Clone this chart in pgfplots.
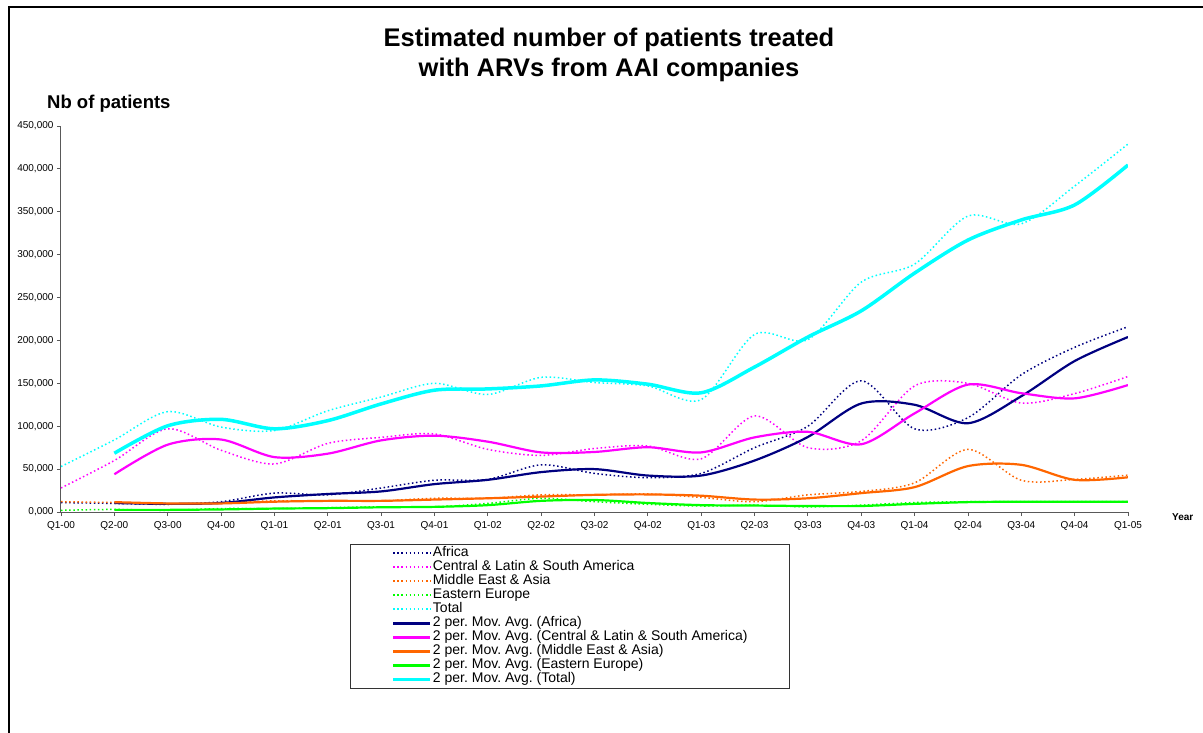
\documentclass[border=0pt]{standalone}
\usepackage{pgfplots}
\pgfplotsset{compat=1.18}
\usepackage{pgfplotstable}
\usepackage{fontspec}
\setmainfont{Liberation Sans}
\frenchspacing
\definecolor{navyc}{RGB}{0,0,128}
\definecolor{magc}{RGB}{255,0,255}
\definecolor{orngc}{RGB}{255,102,0}
\definecolor{grnc}{RGB}{0,255,0}
\definecolor{cync}{RGB}{0,255,255}

\pgfplotstableread{
x af la me ee tot
0 11000 28000 12000 2000 53000
1 10000 60000 11000 3000 84000
2 9000 97000 9000 2000 117000
3 12000 72000 11000 4000 99000
4 22000 56000 13000 4000 95000
5 20000 80000 13000 5000 118000
6 28000 87000 13000 6000 134000
7 37000 91000 16000 6000 150000
8 38000 73000 16000 10000 137000
9 55000 66000 20000 16000 157000
10 45000 74000 20000 12000 151000
11 40000 77000 21000 9000 147000
12 45000 62000 17000 7000 131000
13 75000 112000 12000 8000 207000
14 100000 75000 20000 6000 201000
15 153000 83000 24000 8000 268000
16 97000 147000 34000 11000 289000
17 110000 150000 73000 12000 345000
18 160000 127000 37000 12000 336000
19 192000 138000 38000 12000 380000
20 216000 158000 43000 12000 429000
}\rawdata

\pgfplotstableread{
x af la me ee tot
1 10500 44000 11500 2500 68500
2 9500 78500 10000 2500 100500
3 10500 84500 10000 3000 108000
4 17000 64000 12000 4000 97000
5 21000 68000 13000 4500 106500
6 24000 83500 13000 5500 126000
7 32500 89000 14500 6000 142000
8 37500 82000 16000 8000 143500
9 46500 69500 18000 13000 147000
10 50000 70000 20000 14000 154000
11 42500 75500 20500 10500 149000
12 42500 69500 19000 8000 139000
13 60000 87000 14500 7500 169000
14 87500 93500 16000 7000 204000
15 126500 79000 22000 7000 234500
16 125000 115000 29000 9500 278500
17 103500 148500 53500 11500 317000
18 135000 138500 55000 12000 340500
19 176000 132500 37500 12000 358000
20 204000 148000 40500 12000 404500
}\madata

\begin{document}
\begin{tikzpicture}[x=1pt,y=1pt]
\path[use as bounding box] (0,0) rectangle (1203,-733);
\draw[line width=1.5pt] (9,-733) -- (9,-7) -- (1203,-7);
\node[font=\bfseries\fontsize{25.5}{30}\selectfont, align=center] at (609,-55) {Estimated number of patients treated\\with ARVs from AAI companies};
\node[font=\bfseries\fontsize{18.5}{20}\selectfont, anchor=west, inner sep=0pt] at (47,-104) {Nb of patients};
\node[font=\bfseries\fontsize{10}{12}\selectfont, anchor=west, inner sep=0pt] at (1172,-517) {Year};
\begin{axis}[
  at={(61pt,-512pt)}, anchor=south west,
  scale only axis, width=1067pt, height=386pt,
  xmin=0, xmax=20, ymin=0, ymax=450000,
  axis lines=left,
  axis line style={-, black!65, line width=1pt},
  tick style={black!65, line width=0.8pt},
  major tick length=4pt,
  tick align=outside,
  xtick={0,...,20},
  xticklabels={Q1-00,Q2-00,Q3-00,Q4-00,Q1-01,Q2-01,Q3-01,Q4-01,Q1-02,Q2-02,Q3-02,Q4-02,Q1-03,Q2-03,Q3-03,Q4-03,Q1-04,Q2-04,Q3-04,Q4-04,Q1-05},
  ytick={0,50000,100000,150000,200000,250000,300000,350000,400000,450000},
  yticklabels={{0,000},{50,000},{100,000},{150,000},{200,000},{250,000},{300,000},{350,000},{400,000},{450,000}},
  scaled y ticks=false,
  tick label style={font=\fontsize{10}{12}\selectfont},
  xticklabel style={yshift=-2pt},
  legend cell align=left,
  legend style={at={(0.2709,-0.0829)}, anchor=north west, draw=black!80, line width=0.8pt,
     font=\fontsize{14}{14}\selectfont, inner xsep=41pt, inner ysep=2pt, row sep=0pt,
     nodes={inner ysep=0pt, inner xsep=1pt, text height=10.5pt, text depth=3.5pt}},
  legend image code/.code={\draw[#1] (0pt,0pt) -- (37pt,0pt);},
  every axis plot/.append style={smooth, tension=0.5},
  dotline/.style={line width=1.5pt, dash pattern=on 1.5pt off 2.6pt, legend image post style={line width=2pt}},
]
\addplot[dotline, color=navyc] table[x=x,y=af] {\rawdata};
\addlegendentry{Africa}
\addplot[dotline, color=magc] table[x=x,y=la] {\rawdata};
\addlegendentry{Central \& Latin \& South America}
\addplot[dotline, color=orngc] table[x=x,y=me] {\rawdata};
\addlegendentry{Middle East \& Asia}
\addplot[dotline, color=grnc] table[x=x,y=ee] {\rawdata};
\addlegendentry{Eastern Europe}
\addplot[dotline, color=cync] table[x=x,y=tot] {\rawdata};
\addlegendentry{Total}
\addplot[color=navyc, line width=2.2pt] table[x=x,y=af] {\madata};
\addlegendentry{2 per. Mov. Avg. (Africa)}
\addplot[color=magc, line width=2.2pt] table[x=x,y=la] {\madata};
\addlegendentry{2 per. Mov. Avg. (Central \& Latin \& South America)}
\addplot[color=orngc, line width=2.2pt] table[x=x,y=me] {\madata};
\addlegendentry{2 per. Mov. Avg. (Middle East \& Asia)}
\addplot[color=grnc, line width=2.2pt] table[x=x,y=ee] {\madata};
\addlegendentry{2 per. Mov. Avg. (Eastern Europe)}
\addplot[color=cync, line width=3.5pt] table[x=x,y=tot] {\madata};
\addlegendentry{2 per. Mov. Avg. (Total)}
\end{axis}
\end{tikzpicture}
\end{document}
